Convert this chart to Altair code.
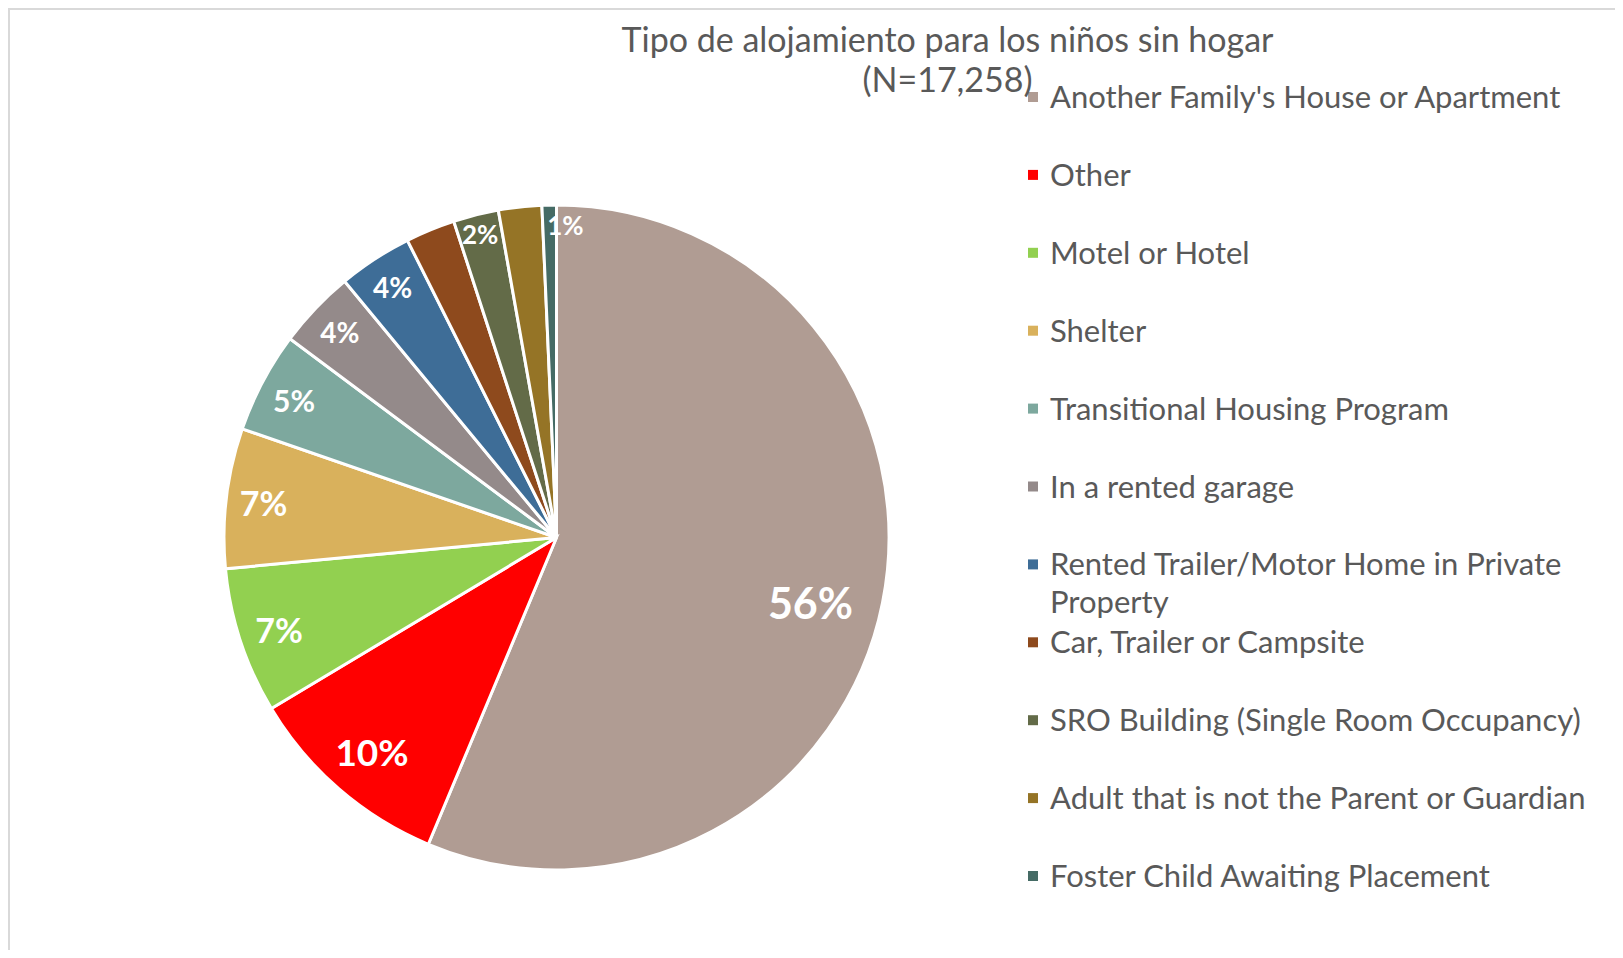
import altair as alt
import pandas as pd

categories = [
    "Another Family's House or Apartment",
    "Other",
    "Motel or Hotel",
    "Shelter",
    "Transitional Housing Program",
    "In a rented garage",
    "Rented Trailer/Motor Home in Private Property",
    "Car, Trailer or Campsite",
    "SRO Building (Single Room Occupancy)",
    "Adult that is not the Parent or Guardian",
    "Foster Child Awaiting Placement",
]
legend_labels = [
    "Another Family's House or Apartment",
    "Other",
    "Motel or Hotel",
    "Shelter",
    "Transitional Housing Program",
    "In a rented garage",
    "Rented Trailer/Motor Home in Private\nProperty",
    "Car, Trailer or Campsite",
    "SRO Building (Single Room Occupancy)",
    "Adult that is not the Parent or Guardian",
    "Foster Child Awaiting Placement",
]
values = [56.3, 10.1, 7.1, 6.8, 4.9, 3.8, 3.6, 2.4, 2.2, 2.1, 0.7]
pct_labels = ["56%", "10%", "7%", "7%", "5%", "4%", "4%", "", "2%", "", "1%"]
colors = ["#B09C93", "#FF0000", "#92D050", "#D9B15C", "#7DA89E", "#948A8A",
          "#3E6D97", "#8E4A1D", "#636B48", "#957426", "#456B65"]
label_sizes = [43, 37, 34, 34, 30, 28, 28, 26, 26, 26, 26]
label_radius = [262, 282, 292, 295, 297, 299, 300, 315, 315, 315, 315]
label_shift = [0.05, 0, 0, 0, 0, 0, 0, 0, 0, 0, 0.05]  # radians, small nudges

df = pd.DataFrame({
    "cat": categories,
    "legend": legend_labels,
    "value": values,
    "pct": pct_labels,
    "idx": list(range(len(categories))),
    "lsize": label_sizes,
    "lr": label_radius,
    "shift": label_shift,
})

W, H = 1607, 942
CX, CY, R = 548.5, 529.5, 332.5
FONT = "Lato"

color_scale = alt.Scale(domain=categories, range=colors)

base = alt.Chart(df)

pie = base.mark_arc(stroke="white", strokeWidth=3).encode(
    theta=alt.Theta("value:Q", stack=True),
    order=alt.Order("idx:Q"),
    color=alt.Color("cat:N", scale=color_scale, legend=None),
    x=alt.value(CX),
    y=alt.value(CY),
    radius=alt.value(R),
)

labels = base.transform_window(
    cum="sum(value)", sort=[alt.SortField("idx")],
    frame=[None, 0],
).transform_joinaggregate(
    total="sum(value)"
).transform_calculate(
    mid="(datum.cum - datum.value / 2) / datum.total * 2 * PI + datum.shift"
).mark_text(font=FONT, fontWeight="bold", color="white",
            align="center", baseline="middle", dy=4).encode(
    theta=alt.Theta("mid:Q", scale=None, stack=None),
    radius=alt.Radius("lr:Q", scale=None),
    size=alt.Size("lsize:Q", scale=None, legend=None),
    text="pct:N",
    x=alt.value(CX),
    y=alt.value(CY),
)

ypos = alt.Y("cat:N", sort=categories, axis=None,
             scale=alt.Scale(type="point", domain=categories, range=[89, 868], padding=0))

leg_sq = base.mark_square(size=100, opacity=1).encode(
    x=alt.value(1025),
    y=ypos,
    color=alt.Color("cat:N", scale=color_scale, legend=None),
)
leg_txt = base.mark_text(font=FONT, fontSize=31, color="#595959", align="left",
                         baseline="alphabetic", dy=11, lineBreak="\n",
                         lineHeight=38).encode(
    x=alt.value(1042),
    y=ypos,
    text="legend:N",
)

border = alt.Chart(pd.DataFrame({"a": [0]})).mark_rect(
    filled=False, stroke="#D9D9D9", strokeWidth=2).encode(
    x=alt.value(1), y=alt.value(1), x2=alt.value(1700), y2=alt.value(1100)
)

chart = alt.layer(border, pie, labels, leg_sq, leg_txt).properties(
    width=W, height=H,
    autosize=alt.AutoSizeParams(type="none"),
    padding=0,
    title=alt.TitleParams(
        ["Tipo de alojamiento para los niños sin hogar", "(N=17,258)"],
        font=FONT, fontSize=34, fontWeight="normal", color="#595959",
        anchor="middle", dx=136, dy=91, offset=0, baseline="top", lineHeight=40,
    ),
).configure_view(stroke=None).configure(background="white")

chart.save("out.html", embed_options={"renderer": "svg", "actions": False})
